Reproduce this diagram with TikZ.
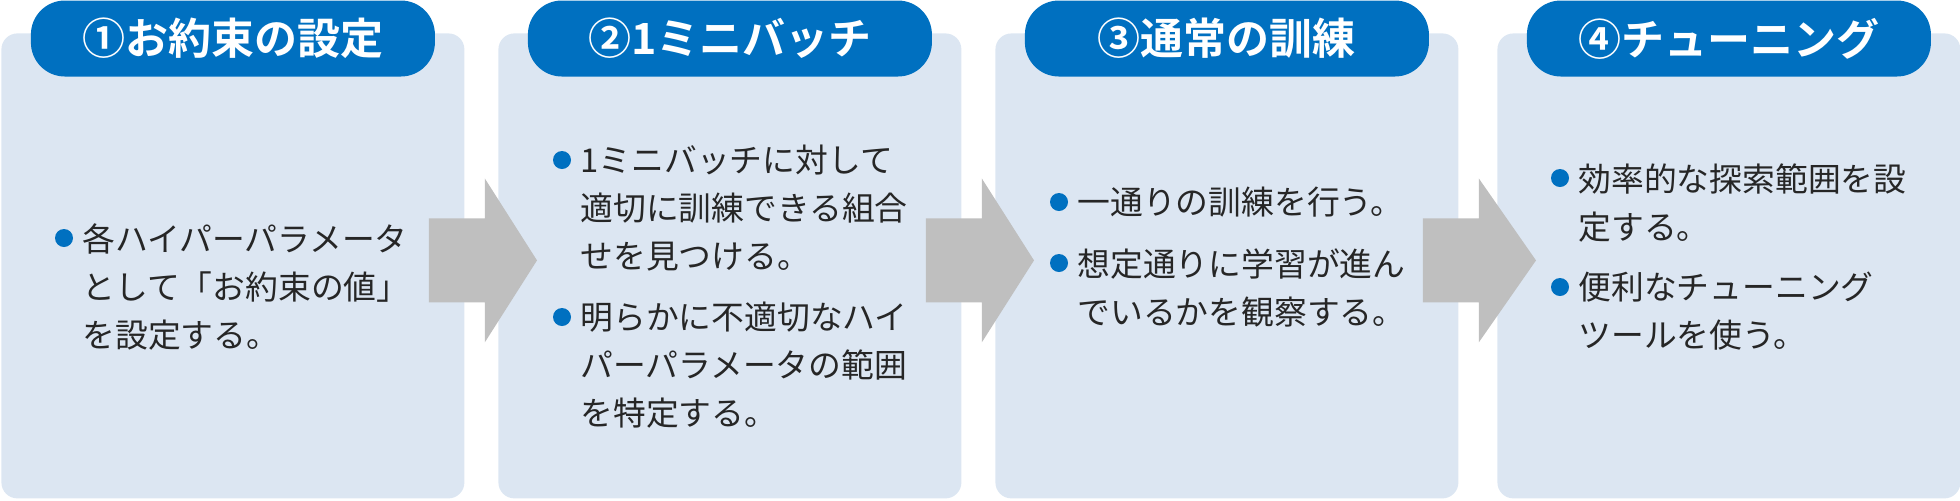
\documentclass[tikz,border=0pt]{standalone}
\usepackage{fontspec}
\usepackage{xcolor}
\usetikzlibrary{positioning, calc}
\newfontfamily\jp{Noto Sans CJK JP}[BoldFont={Noto Sans CJK JP Bold}]
\definecolor{headblue}{HTML}{0070C0}
\definecolor{panelblue}{HTML}{DCE6F2}
\definecolor{arrowgray}{HTML}{BFBFBF}
\definecolor{textgray}{HTML}{262626}

\begin{document}
\begin{tikzpicture}[x=0.5pt, y=-0.5pt,
    panel/.style={rectangle, fill=panelblue, rounded corners=8pt, minimum width=231.5pt, minimum height=232.5pt, anchor=north west, inner sep=0pt},
    header/.style={rectangle, fill=headblue, rounded corners=17pt, minimum width=202pt, minimum height=38pt, inner sep=0pt, text=white, font=\jp\bfseries\fontsize{21.5}{24}\selectfont},
    item/.style={anchor=north west, inner sep=0pt, align=left, text=textgray, font=\jp\fontsize{16.4}{24}\selectfont},
    dot/.style={circle, fill=headblue, minimum size=9pt, inner sep=0pt},
    bigarrow/.style={fill=arrowgray}]

    \useasboundingbox (0,0) rectangle (1960,500);

    % panels
    \node [panel] (box1) at (1,33) {};
    \node [panel] (box2) at (498,33) {};
    \node [panel] (box3) at (995,33) {};
    \node [panel] (box4) at (1497,33) {};

    % arrows between panels
    \foreach \i/\j in {1/2, 2/3, 3/4} {
        \fill [bigarrow] ($(box\i.east)+(-36,-47.5)$) -- ++(56,0) -- ++(0,-40)
            -- ($(box\j.west)+(39,-5.5)$)
            -- ($(box\i.east)+(20,76.5)$) -- ++(0,-40)
            -- ($(box\i.east)+(-36,36.5)$) -- cycle;
    }

    % headers
    \node [header] (head1) at ($(box1.north)+(0,5.5)$) {①お約束の設定};
    \node [header] (head2) at ($(box2.north)+(0,5.5)$) {②1ミニバッチ};
    \node [header] (head3) at ($(box3.north)+(0,5.5)$) {③通常の訓練};
    \node [header] (head4) at ($(box4.north)+(0,5.5)$) {④チューニング};

    % texts
    \node [item] (t1a) at ($(box1.north west)+(81,190)$) {各ハイパーパラメータ\\として「お約束の値」\\を設定する。};

    \node [item] (t2a) at ($(box2.north west)+(82,112)$) {1ミニバッチに対して\\適切に訓練できる組合\\せを見つける。};
    \node [item] (t2b) at ($(box2.north west)+(82,269)$) {明らかに不適切なハイ\\パーパラメータの範囲\\を特定する。};

    \node [item] (t3a) at ($(box3.north west)+(82,154)$) {一通りの訓練を行う。};
    \node [item] (t3b) at ($(box3.north west)+(82,215)$) {想定通りに学習が進ん\\でいるかを観察する。};

    \node [item] (t4a) at ($(box4.north west)+(81,130)$) {効率的な探索範囲を設\\定する。};
    \node [item] (t4b) at ($(box4.north west)+(81,239)$) {便利なチューニング\\ツールを使う。};

    % bullets
    \foreach \t in {t1a, t2a, t2b, t3a, t3b, t4a, t4b}
        \node [dot] (dot-\t) at ($(\t.north west)+(-18,15)$) {};
\end{tikzpicture}
\end{document}
